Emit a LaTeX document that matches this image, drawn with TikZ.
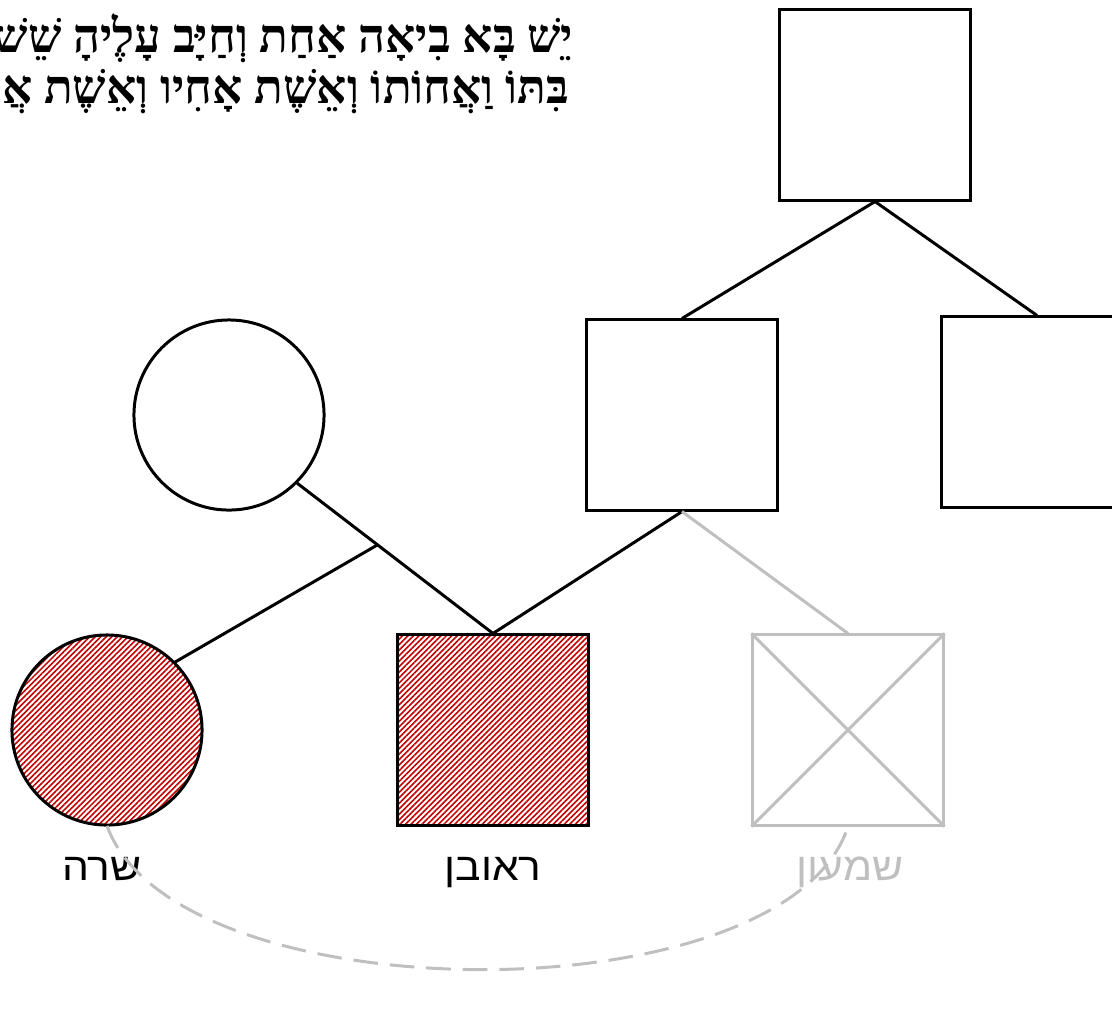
\documentclass[tikz,border=0pt]{standalone}
\usepackage{fontspec}
\usetikzlibrary{patterns.meta}
\TeXXeTstate=1
\newfontfamily\hebsans[Script=Hebrew,FakeStretch=1.1]{Liberation Sans}
\newfontfamily\hebserif[Script=Hebrew]{Liberation Serif}
\definecolor{hatchred}{RGB}{192,0,0}
\definecolor{deadgray}{RGB}{191,191,191}

\begin{document}
\begin{tikzpicture}[
    x=0.01cm, y=-0.01cm,
    male/.style={draw, rectangle, minimum size=1.9cm, inner sep=0pt, line width=0.85pt},
    female/.style={draw, circle, minimum size=1.9cm, inner sep=0pt, line width=0.85pt},
    affected/.style={pattern={Lines[angle=45,distance=1.1pt,line width=0.45pt]}, pattern color=hatchred},
    dead/.style={draw=deadgray},
    quoteline/.style={font=\hebserif\bfseries\fontsize{13.4}{15}\selectfont, anchor=base east, inner sep=0pt},
    namelbl/.style={font=\hebsans\fontsize{11}{13}\selectfont, anchor=base},
    tie/.style={line width=0.85pt},
    wedlock/.style={draw=deadgray, line width=0.85pt, dash pattern=on 7pt off 3.4pt}
]
\useasboundingbox (0,0) rectangle (1112,1011);

% Quote
\node[quoteline] (quoteA) at (574,52) {\beginR יֵשׁ בָּא בִיאָה אַחַת וְחַיָּב עָלֶיהָ שֵׁשׁ\endR};
\node[quoteline] (quoteB) at (570,103) {\beginR בִּתּוֹ וַאֲחוֹתוֹ וְאֵשֶׁת אָחִיו וְאֵשֶׁת אֲחִי\endR};

% People
\node[male] (grandpa) at (875,105) {};
\node[male] (father) at (682,415) {};
\node[male] (uncle) at (1037,412) {};
\node[female] (wife) at (229,415) {};
\node[female, affected] (sarah) at (107,730) {};
\node[male, affected] (reuven) at (493,730) {};
\node[male, dead, line width=0.85pt] (shimon) at (848,730) {};

% Names
\node[namelbl] (sarahlbl) at (102,880) {\beginR שרה\endR};
\node[namelbl] (reuvenlbl) at (493,880) {\beginR ראובן\endR};
\node[namelbl, text=deadgray] (shimonlbl) at (850,880) {\beginR שמעון\endR};

% Lines of descent
\foreach \x in {father,uncle} {
    \draw[tie] (grandpa.south) -- (\x.north);
}
\draw[tie] (wife.south east) -- coordinate[pos=0.41] (wed) (reuven.north);
\draw[tie] (wed) -- (sarah.north east);
\draw[tie] (father.south) -- (reuven.north);
\draw[tie, deadgray] (father.south) -- (shimon.north);
\draw[tie, deadgray] (shimon.north west) -- (shimon.south east)
                     (shimon.north east) -- (shimon.south west);

% Marriage
\draw[wedlock] (sarah.south) to[out=-70, in=-108, looseness=0.7] (shimon.south);

\end{tikzpicture}
\end{document}
